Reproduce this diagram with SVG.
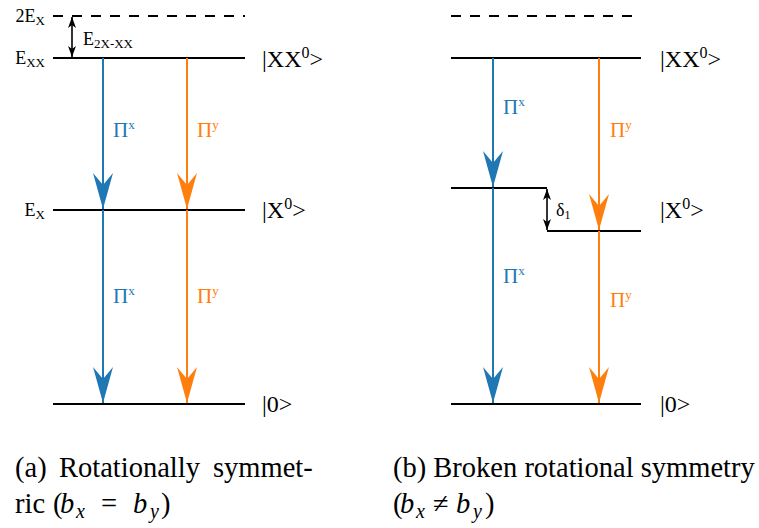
<svg xmlns="http://www.w3.org/2000/svg" width="759" height="528" viewBox="0 0 759 528">
<style>
.lvl{stroke:#000;stroke-width:2;fill:none}
.dash{stroke:#000;stroke-width:2;stroke-dasharray:10,9;fill:none}
.bl{stroke:#1f77b4;stroke-width:2;fill:none}
.or{stroke:#ff7f0e;stroke-width:2;fill:none}
.dbl{stroke:#000;stroke-width:1.6;fill:none}
text{font-family:"Liberation Serif","DejaVu Serif",serif}
.lab{font-size:18px;fill:#000}
.st{font-size:24px;fill:#000}
.pb{font-size:21px;fill:#1f77b4}
.po{font-size:21px;fill:#ff7f0e}
.cap{font-size:28.5px;fill:#000}
.it{font-style:italic}
</style>
<defs>
<marker id="hb" viewBox="-36 -10 36 20" refX="0" refY="0" markerWidth="36" markerHeight="20" markerUnits="userSpaceOnUse" orient="auto">
<path d="M0,0 L-36,-10 L-24,0 L-36,10 Z" fill="#1f77b4"/>
</marker>
<marker id="ho" viewBox="-36 -10 36 20" refX="0" refY="0" markerWidth="36" markerHeight="20" markerUnits="userSpaceOnUse" orient="auto">
<path d="M0,0 L-36,-10 L-24,0 L-36,10 Z" fill="#ff7f0e"/>
</marker>
<marker id="hk" viewBox="-11 -4 11 8" refX="0" refY="0" markerWidth="11" markerHeight="8" markerUnits="userSpaceOnUse" orient="auto-start-reverse">
<path d="M0,0 L-11,-4 L-8,0 L-11,4 Z" fill="#000"/>
</marker>
</defs>

<g id="panel-a">
<g id="a-levels">
<line class="dash" x1="53" y1="16" x2="245" y2="16"/>
<line class="lvl" x1="53" y1="58" x2="245" y2="58"/>
<line class="lvl" x1="53" y1="210" x2="245" y2="210"/>
<line class="lvl" x1="53" y1="404" x2="245" y2="404"/>
</g>
<g id="a-labels">
<text class="lab" x="45" y="22" text-anchor="end">2E<tspan font-size="13" dy="3">X</tspan></text>
<text class="lab" x="45" y="64" text-anchor="end">E<tspan font-size="13" dy="3">XX</tspan></text>
<text class="lab" x="45" y="216" text-anchor="end">E<tspan font-size="13" dy="3">X</tspan></text>
<text class="lab" x="83" y="45">E<tspan font-size="13" dy="3">2X-XX</tspan></text>
<text class="st" x="262" y="67">|XX<tspan font-size="16" dy="-9">0</tspan><tspan dy="9">&gt;</tspan></text>
<text class="st" x="262" y="218">|X<tspan font-size="16" dy="-9">0</tspan><tspan dy="9">&gt;</tspan></text>
<text class="st" x="262" y="412">|0&gt;</text>
<text class="pb" x="113" y="137">Π<tspan font-size="13" dy="-8">x</tspan></text>
<text class="po" x="197" y="137">Π<tspan font-size="13" dy="-8">y</tspan></text>
<text class="pb" x="113" y="303">Π<tspan font-size="13" dy="-8">x</tspan></text>
<text class="po" x="197" y="303">Π<tspan font-size="13" dy="-8">y</tspan></text>
</g>
</g>

<g id="panel-b">
<g id="b-levels">
<line class="dash" x1="451" y1="16" x2="641" y2="16"/>
<line class="lvl" x1="451" y1="58" x2="641" y2="58"/>
<line class="lvl" x1="451" y1="188" x2="547" y2="188"/>
<line class="lvl" x1="547" y1="231" x2="641" y2="231"/>
<line class="lvl" x1="451" y1="404" x2="641" y2="404"/>
</g>
<g id="b-labels">
<text class="lab" x="556" y="216">δ<tspan font-size="12" dy="3">1</tspan></text>
<text class="st" x="660" y="67">|XX<tspan font-size="16" dy="-9">0</tspan><tspan dy="9">&gt;</tspan></text>
<text class="st" x="660" y="218">|X<tspan font-size="16" dy="-9">0</tspan><tspan dy="9">&gt;</tspan></text>
<text class="st" x="660" y="412">|0&gt;</text>
<text class="pb" x="503" y="114">Π<tspan font-size="13" dy="-8">x</tspan></text>
<text class="po" x="610" y="137">Π<tspan font-size="13" dy="-8">y</tspan></text>
<text class="pb" x="503" y="283">Π<tspan font-size="13" dy="-8">x</tspan></text>
<text class="po" x="610" y="307">Π<tspan font-size="13" dy="-8">y</tspan></text>
</g>
</g>

<g id="connectors">
<line class="dbl" x1="72" y1="17" x2="72" y2="57" marker-start="url(#hk)" marker-end="url(#hk)"/>
<line class="bl" x1="103" y1="58" x2="103" y2="209" marker-end="url(#hb)"/>
<line class="or" x1="187" y1="58" x2="187" y2="209" marker-end="url(#ho)"/>
<line class="bl" x1="103" y1="210" x2="103" y2="403" marker-end="url(#hb)"/>
<line class="or" x1="187" y1="210" x2="187" y2="403" marker-end="url(#ho)"/>
<line class="dbl" x1="547" y1="189" x2="547" y2="230" marker-start="url(#hk)" marker-end="url(#hk)"/>
<line class="bl" x1="493" y1="58" x2="493" y2="187" marker-end="url(#hb)"/>
<line class="or" x1="599" y1="58" x2="599" y2="230" marker-end="url(#ho)"/>
<line class="bl" x1="493" y1="188" x2="493" y2="403" marker-end="url(#hb)"/>
<line class="or" x1="599" y1="231" x2="599" y2="403" marker-end="url(#ho)"/>
</g>

<g id="captions">
<text class="cap" y="477"><tspan x="15">(a)</tspan><tspan x="59">Rotationally</tspan><tspan x="213">symmet-</tspan></text>
<text class="cap" y="513"><tspan x="15">ric</tspan><tspan x="53">(</tspan><tspan x="60" class="it">b</tspan><tspan x="76" dy="5" font-size="20" class="it">x</tspan><tspan x="101" dy="-5">=</tspan><tspan x="133" class="it">b</tspan><tspan x="150" dy="5" font-size="20" class="it">y</tspan><tspan x="161" dy="-5">)</tspan></text>
<text class="cap" x="393" y="477">(b) Broken rotational symmetry</text>
<text class="cap" y="513"><tspan x="393">(</tspan><tspan x="400" class="it">b</tspan><tspan x="416" dy="5" font-size="20" class="it">x</tspan><tspan x="433" dy="-5">≠</tspan><tspan x="456" class="it">b</tspan><tspan x="473" dy="5" font-size="20" class="it">y</tspan><tspan x="485" dy="-5">)</tspan></text>
</g>
</svg>
